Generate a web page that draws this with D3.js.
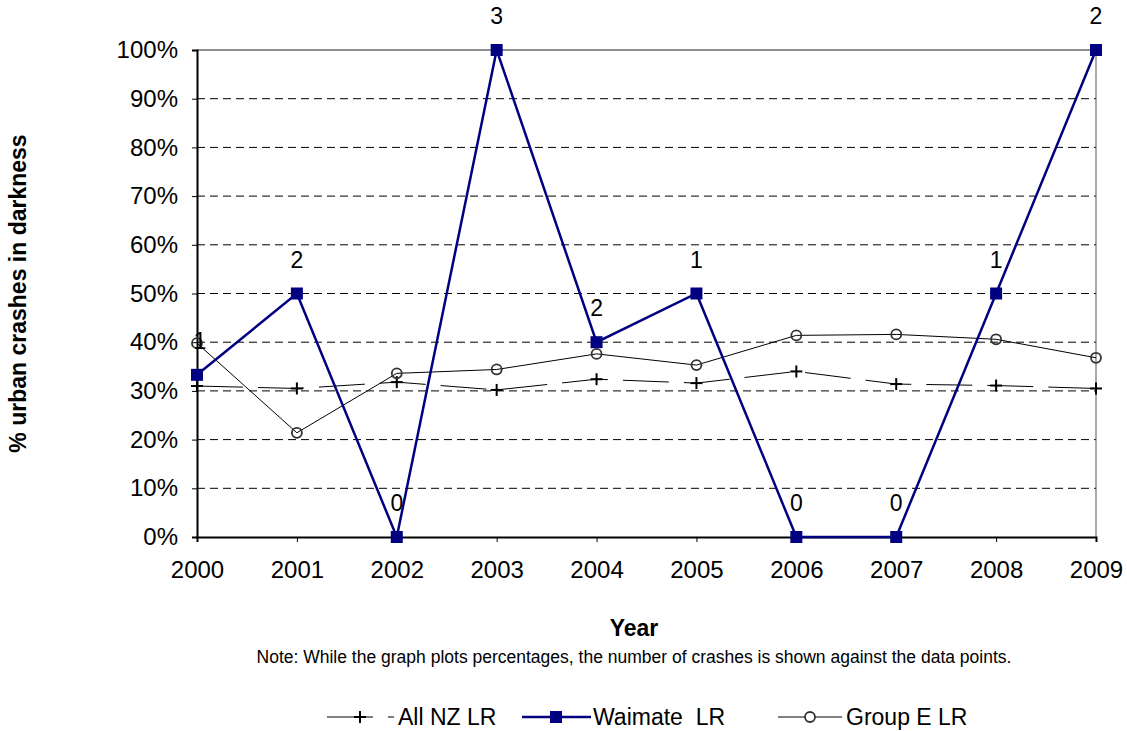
<!DOCTYPE html>
<html>
<head>
<meta charset="utf-8">
<script src="https://cdn.jsdelivr.net/npm/d3@7"></script>
<style>
  body { margin: 0; background: #fff; }
  text { font-family: "Liberation Sans", Arial, sans-serif; }
</style>
</head>
<body>
<div id="chart"></div>
<script>
const years = ["2000", "2001", "2002", "2003", "2004", "2005", "2006", "2007", "2008", "2009"];
const allNz = [31.0, 30.5, 31.8, 30.2, 32.4, 31.6, 34.0, 31.4, 31.1, 30.5];
const waimate = [33.3, 50, 0, 100, 40, 50, 0, 0, 50, 100];
const waimateCounts = [1, 2, 0, 3, 2, 1, 0, 0, 1, 2];
const groupE = [39.8, 21.4, 33.6, 34.4, 37.6, 35.3, 41.4, 41.6, 40.6, 36.8];
const yTicks = [0, 10, 20, 30, 40, 50, 60, 70, 80, 90, 100];

const W = 1127, H = 731;
const margin = { top: 50, right: 31, bottom: 194, left: 197 };
const width = W - margin.left - margin.right;
const height = H - margin.top - margin.bottom;
const fontFamily = "Liberation Sans, Arial, sans-serif";
const titleX = 634;

const svg = d3.select("#chart").append("svg")
    .attr("width", W)
    .attr("height", H);

const g = svg.append("g")
    .attr("transform", `translate(${margin.left},${margin.top})`);

const x = d3.scalePoint().domain(years).range([0, width]);
const y = d3.scaleLinear().domain([0, 100]).range([height, 0]);

// gridlines
g.selectAll(".grid")
    .data(yTicks.filter(d => d > 0 && d < 100))
    .join("line")
    .attr("x1", 0).attr("x2", width)
    .attr("y1", d => y(d)).attr("y2", d => y(d))
    .attr("stroke", "#000")
    .attr("stroke-width", 1)
    .attr("stroke-dasharray", "8,5");

// plot border top & right
g.append("line").attr("x1", 0).attr("x2", width).attr("y1", 0).attr("y2", 0)
    .attr("stroke", "#222").attr("stroke-width", 1);
g.append("line").attr("x1", width).attr("x2", width).attr("y1", 0).attr("y2", height)
    .attr("stroke", "#555").attr("stroke-width", 1);

// axes
const yAxis = g.append("g")
    .call(d3.axisLeft(y).tickValues(yTicks).tickFormat(d => d + "%").tickSize(5).tickPadding(14));
const xAxis = g.append("g")
    .attr("transform", `translate(0,${height})`)
    .call(d3.axisBottom(x).tickSize(5).tickPadding(19));

[yAxis, xAxis].forEach(a => {
    a.select(".domain").attr("stroke", "#000").attr("stroke-width", 2);
    a.selectAll(".tick line").attr("stroke", "#000");
    a.selectAll("text").attr("font-size", 24).attr("fill", "#000")
        .attr("font-family", fontFamily);
});

const line = d3.line()
    .x((d, i) => x(years[i]))
    .y(d => y(d));

// Group E
g.append("path")
    .datum(groupE)
    .attr("d", line)
    .attr("fill", "none")
    .attr("stroke", "#000")
    .attr("stroke-width", 1);

// All NZ
g.append("path")
    .datum(allNz)
    .attr("d", line)
    .attr("fill", "none")
    .attr("stroke", "#000")
    .attr("stroke-width", 1)
    .attr("stroke-dasharray", "46,15");

// Waimate
g.append("path")
    .datum(waimate)
    .attr("d", line)
    .attr("fill", "none")
    .attr("stroke", "#000080")
    .attr("stroke-width", 2.5);

function plusMarker(sel, size) {
    sel.append("line").attr("x1", -size).attr("x2", size).attr("y1", 0).attr("y2", 0)
        .attr("stroke", "#000").attr("stroke-width", 2);
    sel.append("line").attr("x1", 0).attr("x2", 0).attr("y1", -size).attr("y2", size)
        .attr("stroke", "#000").attr("stroke-width", 2);
}

g.selectAll(".nz")
    .data(allNz)
    .join("g")
    .attr("transform", (d, i) => `translate(${x(years[i])},${y(d)})`)
    .each(function () { plusMarker(d3.select(this), 6); });

g.selectAll(".ge")
    .data(groupE)
    .join("circle")
    .attr("cx", (d, i) => x(years[i]))
    .attr("cy", d => y(d))
    .attr("r", 5)
    .attr("fill", "none")
    .attr("stroke", "#333")
    .attr("stroke-width", 1.8);

g.selectAll(".wm")
    .data(waimate)
    .join("rect")
    .attr("x", (d, i) => x(years[i]) - 6)
    .attr("y", d => y(d) - 6)
    .attr("width", 12)
    .attr("height", 12)
    .attr("fill", "#000080");

g.selectAll(".lbl")
    .data(waimateCounts)
    .join("text")
    .attr("x", (d, i) => x(years[i]) + (i === 0 ? 3 : 0))
    .attr("y", (d, i) => y(waimate[i]) - 26)
    .attr("text-anchor", "middle")
    .attr("font-size", 23)
    .attr("fill", "#000")
    .text(d => d);

// titles
svg.append("text")
    .attr("x", titleX)
    .attr("y", 636)
    .attr("text-anchor", "middle")
    .attr("font-size", 23)
    .attr("font-weight", "bold")
    .text("Year");

svg.append("text")
    .attr("x", titleX)
    .attr("y", 663)
    .attr("text-anchor", "middle")
    .attr("font-size", 17.5)
    .text("Note: While the graph plots percentages, the number of crashes is shown against the data points.");

svg.append("text")
    .attr("transform", `translate(26,${margin.top + height / 2}) rotate(-90)`)
    .attr("text-anchor", "middle")
    .attr("font-size", 23)
    .attr("font-weight", "bold")
    .text("% urban crashes in darkness");

// legend
const ly = 717;
const legend = svg.append("g");
// All NZ
legend.append("line").attr("x1", 327).attr("x2", 394).attr("y1", ly).attr("y2", ly)
    .attr("stroke", "#000").attr("stroke-width", 1).attr("stroke-dasharray", "46,15");
plusMarker(legend.append("g").attr("transform", `translate(360,${ly})`), 6);
legend.append("text").attr("x", 398).attr("y", ly + 8).attr("font-size", 23).text("All NZ LR");
// Waimate
legend.append("line").attr("x1", 522).attr("x2", 591).attr("y1", ly).attr("y2", ly)
    .attr("stroke", "#000080").attr("stroke-width", 2.5);
legend.append("rect").attr("x", 550).attr("y", ly - 6).attr("width", 12).attr("height", 12)
    .attr("fill", "#000080");
legend.append("text").attr("x", 593).attr("y", ly + 8).attr("font-size", 23).text("Waimate  LR")
    .style("white-space", "pre");
// Group E
legend.append("line").attr("x1", 778).attr("x2", 842).attr("y1", ly).attr("y2", ly)
    .attr("stroke", "#000").attr("stroke-width", 1);
legend.append("circle").attr("cx", 810).attr("cy", ly).attr("r", 5)
    .attr("fill", "#fff").attr("stroke", "#333").attr("stroke-width", 1.8);
legend.append("text").attr("x", 846).attr("y", ly + 8).attr("font-size", 23).text("Group E LR");
</script>
</body>
</html>
